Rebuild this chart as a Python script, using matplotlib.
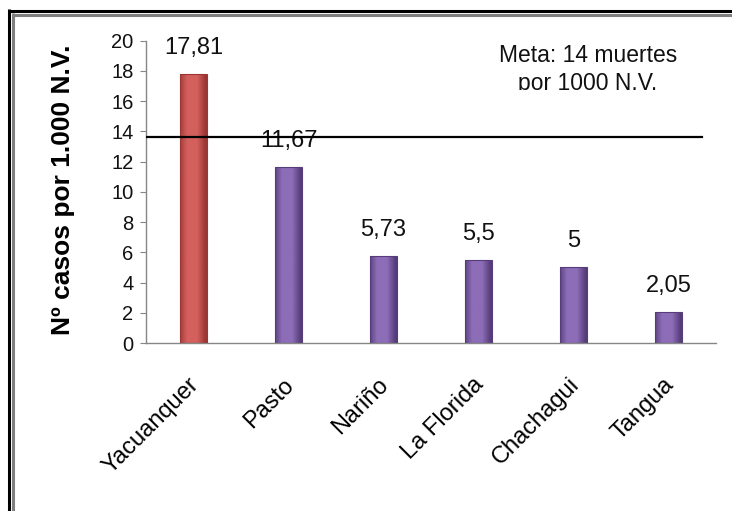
import matplotlib
matplotlib.use("Agg")
import matplotlib.pyplot as plt
from matplotlib.lines import Line2D
from matplotlib.transforms import Bbox, offset_copy
import numpy as np

# --- Datos ---
municipios = ["Yacuanquer", "Pasto", "Nariño", "La Florida", "Chachagui", "Tangua"]
tasas = [17.81, 11.67, 5.73, 5.5, 5, 2.05]
etiquetas = ["17,81", "11,67", "5,73", "5,5", "5", "2,05"]
meta = 13.6
y_ticks = [0, 2, 4, 6, 8, 10, 12, 14, 16, 18, 20]

# colores (borde oscuro, centro claro)
rojo = ("#9a3634", "#d4605d")
morado = ("#563d7a", "#8d6db8")
colores = [rojo] + [morado] * 5

plt.rcParams['font.family'] = ['Liberation Sans', 'DejaVu Sans']

W, H = 732, 511
fig = plt.figure(figsize=(W / 100, H / 100), dpi=100)
ax = fig.add_axes([146 / W, 1 - 343 / H, (716 - 146) / W, (343 - 40.7) / H])

x = np.arange(len(municipios))
barras = ax.bar(x, tasas, width=0.28, color="none", edgecolor="none", zorder=2)

# degradado horizontal dentro de cada barra
for b, (oscuro, claro) in zip(barras, colores):
    c1 = np.array(matplotlib.colors.to_rgb(oscuro))
    c2 = np.array(matplotlib.colors.to_rgb(claro))
    t = np.linspace(0, 1, 64)
    perfil = 1 - np.abs(t - 0.45) * 2
    perfil = np.clip(perfil * 1.6, 0, 1)
    grad = c1[None, :] + (c2 - c1)[None, :] * perfil[:, None]
    img = ax.imshow(grad[None, :, :], aspect="auto", zorder=2,
                    extent=(b.get_x(), b.get_x() + b.get_width(), 0, b.get_height()))
    img.set_clip_path(b)
    ax.bar(b.get_x() + b.get_width() / 2, b.get_height(), width=b.get_width(),
           color="none", edgecolor=oscuro, linewidth=0.8, zorder=3)

for xi, v, lab in zip(x, tasas, etiquetas):
    ax.annotate(lab, (xi, v), xytext=(0, 15), textcoords="offset pixels",
                ha="center", va="bottom", fontsize=17, color="#111111")

ax.axhline(meta, xmin=0, xmax=(702 - 146) / (716 - 146), color="black", lw=1.6, zorder=4)

ax.set_xlim(-0.5, len(municipios) - 0.5)
ax.set_ylim(0, 20)
ax.set_yticks(y_ticks)
ax.tick_params(axis="y", length=4, color="#868686", labelsize=14.5, pad=5, labelcolor="#111111")
ax.tick_params(axis="x", length=0, pad=12)
ax.set_xticks(x)
ax.set_xticklabels(municipios, rotation=45, ha="right", va="center",
                   rotation_mode="anchor", fontsize=17)
for lbl in ax.get_xticklabels():
    lbl.set_transform(offset_copy(lbl.get_transform(), fig=fig, x=2, y=-22, units="dots"))

for s in ["top", "right"]:
    ax.spines[s].set_visible(False)
for s in ["left", "bottom"]:
    ax.spines[s].set_color("#868686")
    ax.spines[s].set_linewidth(1)

fig.text(63 / W, 1 - 190 / H, "Nº casos por 1.000 N.V.", rotation=90,
         ha="center", va="center", fontsize=19, fontweight="bold")

# texto de la meta, recortado abajo como en el original
t1 = fig.text(588 / W, 1 - 44 / H, "Meta: 14 muertes\npor 1000 N.V.", ha="center", va="top",
              fontsize=16.5, linespacing=1.3, color="#111111")
t1.set_clip_box(Bbox.from_extents(0, H - 90, W, H))
t1.set_clip_on(True)

# marco doble
for px, col in [(9, "black"), (13, "#808080")]:
    fig.add_artist(Line2D([px / W, px / W], [0, 1 - px / H - 0.5 / H], color=col, lw=2.2,
                          solid_capstyle="butt", transform=fig.transFigure))
    fig.add_artist(Line2D([px / W - 1 / W, 1], [1 - (px + 2) / H, 1 - (px + 2) / H], color=col,
                          lw=2.2, solid_capstyle="butt", transform=fig.transFigure))

fig.savefig("out.png", dpi=100)
